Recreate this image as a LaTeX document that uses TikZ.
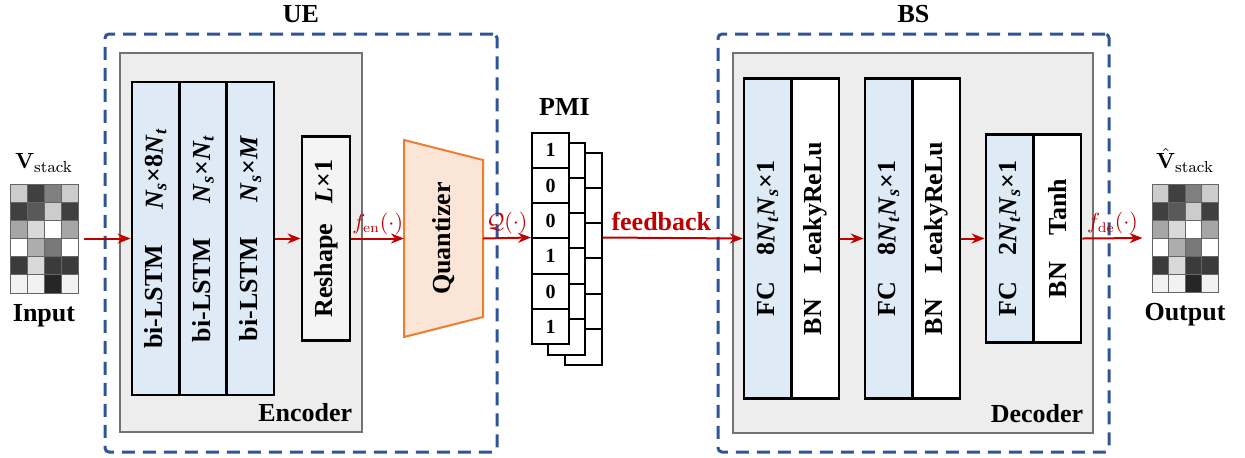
\documentclass[tikz,border=0pt]{standalone}
\usepackage[no-math]{fontspec}
\setmainfont{Liberation Serif}
\usetikzlibrary{arrows.meta,positioning}
\definecolor{layerblue}{HTML}{DEEBF7}
\definecolor{arrred}{HTML}{C00000}
\definecolor{qorange}{HTML}{ED7D31}
\definecolor{qfill}{HTML}{FBE5D6}
\definecolor{panelgray}{HTML}{EDEDED}
\definecolor{reshgray}{HTML}{F4F4F4}
\definecolor{boxblue}{HTML}{2F5597}
\newcommand{\Nsub}[1]{\textit{N}\textsubscript{\textit{#1}}}

\begin{document}
\begin{tikzpicture}[x=0.5pt,y=-0.5pt,
    font=\fontsize{13}{15}\selectfont\bfseries,
    layer/.style={draw, line width=1.4pt, inner sep=0pt, minimum width=23.7pt},
    vtext/.style={rotate=90, inner sep=0pt},
    side/.style={draw=boxblue, line width=1.5pt, dash pattern=on 6.5pt off 4pt, rounded corners=2pt},
    panel/.style={draw=black!55, fill=panelgray, line width=0.6pt},
    cellline/.style={draw=black!60, line width=0.4pt},
    pmicell/.style={draw, line width=1pt, fill=white, minimum width=18.5pt, minimum height=17.67pt, inner sep=0pt, font=\fontsize{10}{12}\selectfont\bfseries},
    arr/.style={draw=arrred, line width=1pt, -{Stealth[length=6.5pt,width=5pt]}},
    fn/.style={text=arrred, font=\fontsize{10.5}{12}\selectfont, inner sep=1.5pt}]
\useasboundingbox (0,0) rectangle (1245,457);

\node[side, minimum width=196pt, minimum height=209pt] (ue) at (301,243) {};
\node[side, minimum width=195.5pt, minimum height=209pt] (bs) at (913.5,243) {};
\node[above=1.5pt of ue.north] {UE};
\node[above=1.5pt of bs.north] {BS};

\node[panel, minimum width=121pt, minimum height=189.5pt] (enc) at (241,242.5) {};
\node[panel, minimum width=180pt, minimum height=190pt] (dec) at (913,243) {};
\node[anchor=south east, inner sep=5pt] at (enc.south east) {Encoder};
\node[anchor=south east, inner sep=5pt] at (dec.south east) {Decoder};

\foreach \row [count=\r] in {{20,75,50,20},{75,65,20,75},{35,15,0,35},{0,32,53,0},{77,15,77,77},{5,5,85,5}}{
  \foreach \g [count=\c] in \row{
    \draw[cellline, fill=black!\g] ({10+(\c-1)*17},{184+(\r-1)*18.17}) rectangle ++(17,18.17);
    \draw[cellline, fill=black!\g] ({1152+(\c-1)*16.5},{184+(\r-1)*18}) rectangle ++(16.5,18);
  }
}
\node[minimum width=34pt, minimum height=54.5pt, inner sep=0pt] (inmat) at (44,238.5) {};
\node[minimum width=33pt, minimum height=54pt, inner sep=0pt] (outmat) at (1185,238) {};
\node[above=2pt of inmat, font=\fontsize{11}{13}\selectfont] {$\mathbf{V}_{\mathrm{stack}}$};
\node[above=2pt of outmat, font=\fontsize{11}{13}\selectfont] {$\hat{\mathbf{V}}_{\mathrm{stack}}$};
\node[below=2pt of inmat] {Input};
\node[below=2pt of outmat] {Output};

\node[layer, fill=layerblue, minimum height=156.5pt] (lstm1) at (155.67,238.5) {};
\node[layer, fill=layerblue, minimum height=156.5pt] (lstm2) at (203,238.5) {};
\node[layer, fill=layerblue, minimum height=156.5pt] (lstm3) at (250.33,238.5) {};
\node[vtext] at (lstm1) {bi-LSTM\hspace{1.35em}\Nsub{s}×8\Nsub{t}};
\node[vtext] at (lstm2) {bi-LSTM\hspace{1.35em}\Nsub{s}×\Nsub{t}};
\node[vtext] at (lstm3) {bi-LSTM\hspace{1.35em}\Nsub{s}×\textit{M}};

\node[layer, fill=reshgray, minimum width=24pt, minimum height=102pt] (reshape) at (326,238.5) {};
\node[vtext] at (reshape) {Reshape\hspace{0.8em}\textit{L}×1};

\draw[draw=qorange, fill=qfill, line width=1pt] (404,140) -- (483,160) -- (483,317) -- (404,337) -- cycle;
\coordinate (qw) at (404,238.5);
\coordinate (qe) at (483,238.5);
\node[vtext] (quant) at (443.5,238.5) {Quantizer};

\foreach \dx/\dy/\nm in {32.5/20/pmic,16.25/10/pmib}{
  \foreach \k in {1,...,6}
    \node[pmicell] (\nm\k) at ({550.5+\dx},{132.5+\dy+(\k-0.5)*35.33}) {};
}
\foreach \b [count=\k] in {1,0,0,1,0,1}
  \node[pmicell] (pmi\k) at (550.5,{132.5+(\k-0.5)*35.33}) {\b};
\node[above=4.5pt of pmi1.north, xshift=7pt] {PMI};

\node[layer, fill=layerblue, minimum height=160pt] (fc1) at (767.75,238.5) {};
\node[layer, fill=white, minimum height=160pt] (bn1) at (815.25,238.5) {};
\node[layer, fill=layerblue, minimum height=160pt] (fc2) at (888.75,238.5) {};
\node[layer, fill=white, minimum height=160pt] (bn2) at (936.25,238.5) {};
\node[layer, fill=layerblue, minimum height=104pt] (fc3) at (1009.75,238.5) {};
\node[layer, fill=white, minimum height=104pt] (bn3) at (1057.25,238.5) {};
\node[vtext] at (fc1) {FC\hspace{1em}8\Nsub{t}\Nsub{s}×1};
\node[vtext] at (bn1) {BN\hspace{1em}LeakyReLu};
\node[vtext] at (fc2) {FC\hspace{1em}8\Nsub{t}\Nsub{s}×1};
\node[vtext] at (bn2) {BN\hspace{1em}LeakyReLu};
\node[vtext] at (fc3) {FC\hspace{1em}2\Nsub{t}\Nsub{s}×1};
\node[vtext] at (bn3) {BN\hspace{1em}Tanh};

\draw[arr] ([xshift=3pt]inmat.east) -- (lstm1.west);
\draw[arr] (lstm3.east) -- (reshape.west);
\draw[arr] (reshape.east) -- node[fn, above] {$f_{\mathrm{en}}(\cdot)$} (qw);
\draw[arr] (qe) -- node[fn, above] {$\mathcal{Q}(\cdot)$} (pmi4.north west);
\draw[arr] (pmic3.east |- pmi4.north west) -- node[above, text=arrred, pos=0.42] {feedback} (fc1.west);
\draw[arr] (bn1.east) -- (fc2.west);
\draw[arr] (bn2.east) -- (fc3.west);
\draw[arr] (bn3.east) -- node[fn, above] {$f_{\mathrm{de}}(\cdot)$} ([xshift=-4.5pt]outmat.west);
\end{tikzpicture}
\end{document}
